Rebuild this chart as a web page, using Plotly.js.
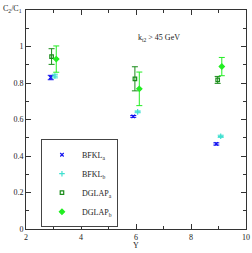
<!DOCTYPE html>
<html><head><meta charset="utf-8">
<script src="https://cdn.plot.ly/plotly-3.0.1.min.js"></script>
<style>html,body{margin:0;padding:0;background:#fff}#c{width:252px;height:253px}</style>
</head><body><div id="c"></div>
<script>
var seriesNames = ["BFKL<sub>a</sub>", "BFKL<sub>b</sub>", "DGLAP<sub>a</sub>", "DGLAP<sub>b</sub>"];
var bfklA_x = [2.9, 5.9, 8.92];
var bfklA_y = [0.830, 0.617, 0.466];
var bfklA_err = [0.012, 0.005, 0.006];
var bfklB_x = [3.05, 6.06, 9.08];
var bfklB_y = [0.838, 0.642, 0.508];
var bfklB_err = [0.010, 0.005, 0.006];
var dglapA_x = [2.93, 5.96, 8.97];
var dglapA_y = [0.945, 0.823, 0.817];
var dglapA_err = [0.043, 0.066, 0.019];
var dglapB_x = [3.1, 6.12, 9.12];
var dglapB_y = [0.931, 0.768, 0.890];
var dglapB_err = [0.072, 0.092, 0.050];
var xTicks = [2, 4, 6, 8, 10];
var yTicks = [0, 0.2, 0.4, 0.6, 0.8, 1];
var yTickText = ["0", "0.2", "0.4", "0.6", "0.8", "1"];

var colors = ["#1010f0", "#40e0d0", "#1a8c1a", "#22ee22"];
var symbols = ["x-thin-open", "cross-thin-open", "square-open", "diamond"];
var sizes = [3.5, 4, 3.5, 4];
var xs = [bfklA_x, bfklB_x, dglapA_x, dglapB_x];
var ys = [bfklA_y, bfklB_y, dglapA_y, dglapB_y];
var es = [bfklA_err, bfklB_err, dglapA_err, dglapB_err];

var data = seriesNames.map(function(n, i){
  return {
    type: "scatter", mode: "markers", name: n,
    x: xs[i], y: ys[i],
    error_y: {type: "data", array: es[i], visible: true, color: colors[i], thickness: 1, width: 3},
    marker: {symbol: symbols[i], color: colors[i], size: sizes[i], line: {color: colors[i], width: 1.2}}
  };
});

var fam = "Liberation Serif, Times New Roman, serif";
var font = {family: fam, size: 8, color: "#222"};
var layout = {
  width: 252, height: 253,
  margin: {l: 26, r: 6, t: 10, b: 24},
  paper_bgcolor: "#fff", plot_bgcolor: "#fff",
  font: font,
  showlegend: true,
  legend: {x: 0.068, y: 0.41, xanchor: "left", yanchor: "top", bgcolor: "#fff",
           bordercolor: "#444", borderwidth: 1, font: {family: fam, size: 8, color: "#222"},
           itemwidth: 30, tracegroupgap: 0, itemsizing: "trace"},
  xaxis: {range: [2, 10], tickvals: xTicks, ticktext: xTicks.map(String), ticks: "inside", ticklen: 5,
          tickcolor: "#333", showline: true, linecolor: "#333", linewidth: 1, mirror: "ticks",
          showgrid: false, zeroline: false, tickfont: {family: fam, size: 8, color: "#222"},
          minor: {dtick: 1, tick0: 2, ticks: "inside", ticklen: 3, tickcolor: "#333", showgrid: false}},
  yaxis: {range: [0, 1.2], tickvals: yTicks, ticktext: yTickText, ticks: "inside", ticklen: 5,
          tickcolor: "#333", showline: true, linecolor: "#333", linewidth: 1, mirror: "ticks",
          showgrid: false, zeroline: false, tickfont: {family: fam, size: 8, color: "#222"},
          minor: {dtick: 0.1, tick0: 0, ticks: "inside", ticklen: 3, tickcolor: "#333", showgrid: false}},
  annotations: [
    {xref: "paper", yref: "paper", x: -0.115, y: 1.005, xanchor: "left", yanchor: "middle",
     text: "C<sub>2</sub>/C<sub>1</sub>", showarrow: false, font: {family: fam, size: 8, color: "#222"}},
    {xref: "x", yref: "y", x: 6.0, y: 1.048, xanchor: "left", yanchor: "middle",
     text: "k<sub>t2</sub> > 45 GeV", showarrow: false, font: {family: fam, size: 8, color: "#222"}},
    {xref: "paper", yref: "paper", x: 0.5, y: -0.105, xanchor: "center", yanchor: "bottom",
     text: "Y", showarrow: false, font: {family: fam, size: 8, color: "#222"}}
  ]
};
Plotly.newPlot("c", data, layout, {displayModeBar: false, staticPlot: true});
</script></body></html>
